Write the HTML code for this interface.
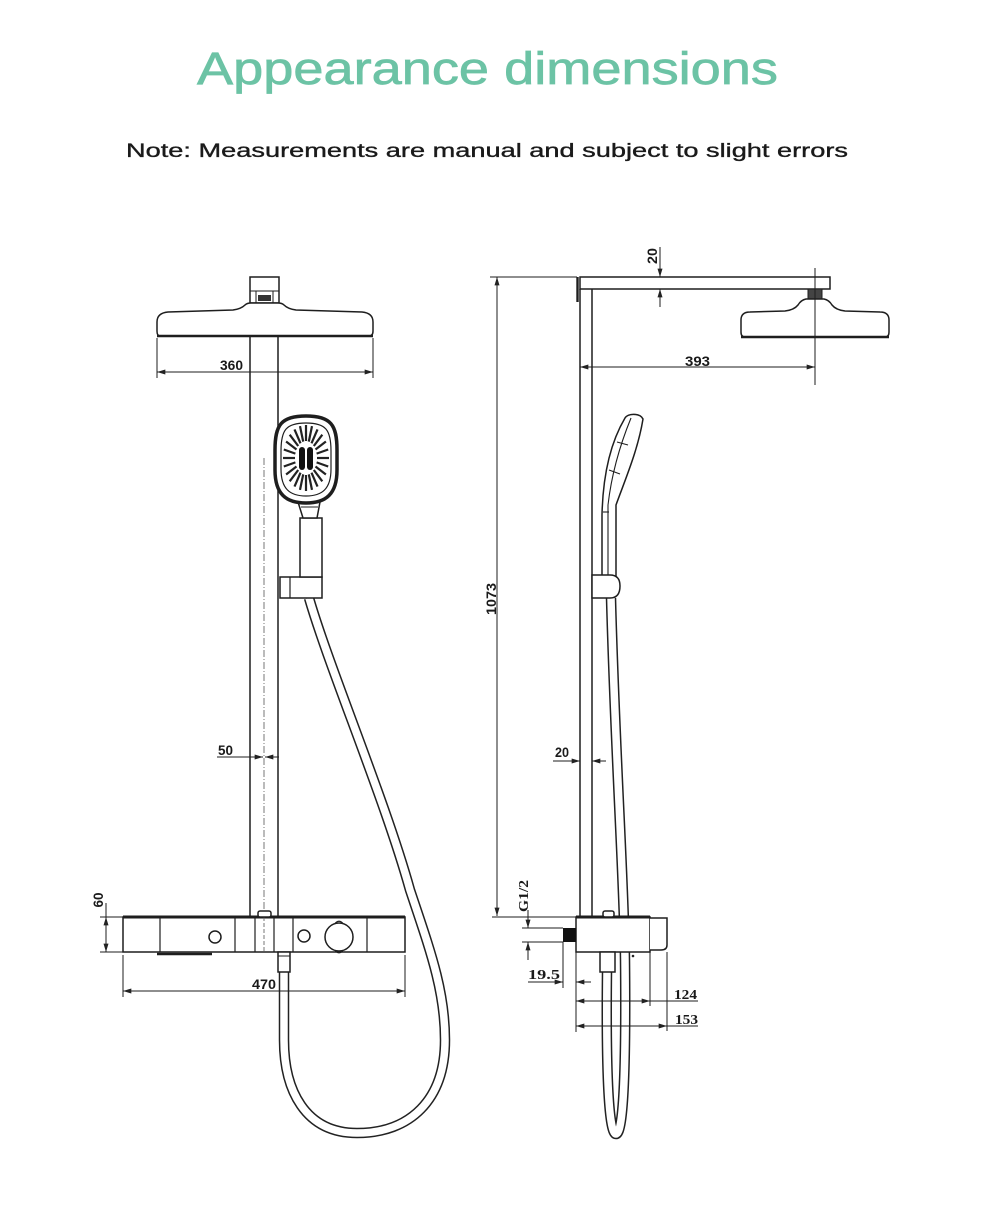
<!DOCTYPE html>
<html><head><meta charset="utf-8">
<style>
html,body{margin:0;padding:0;background:#fff;}
svg{display:block;}
</style></head><body>
<svg width="990" height="1224" viewBox="0 0 990 1224" xmlns="http://www.w3.org/2000/svg">
<defs>
<marker id="ar" viewBox="0 0 10 6" refX="10" refY="3" markerWidth="9" markerHeight="5" markerUnits="userSpaceOnUse" orient="auto-start-reverse">
<path d="M0,0 L10,3 L0,6 z" fill="#222"/>
</marker>
</defs>

<!-- Titles -->
<text x="197" y="84" font-family="Liberation Sans, sans-serif" font-size="45" fill="#6cc3a5" stroke="#6cc3a5" stroke-width="0.7" textLength="581" lengthAdjust="spacingAndGlyphs">Appearance dimensions</text>
<text x="126" y="157" font-family="Liberation Sans, sans-serif" font-size="19.5" fill="#1a1a1a" stroke="#1a1a1a" stroke-width="0.35" textLength="722" lengthAdjust="spacingAndGlyphs">Note: Measurements are manual and subject to slight errors</text>

<g stroke="#1e1e1e" fill="none" stroke-width="1.5">

<!-- ================= LEFT VIEW ================= -->
<line x1="250" y1="336" x2="250" y2="917"/>
<line x1="278" y1="336" x2="278" y2="917"/>
<line x1="264" y1="458" x2="264" y2="952" stroke="#777" stroke-width="1" stroke-dasharray="7 2 1 2"/>

<rect x="250" y="277" width="29" height="26" fill="#fff"/>
<line x1="250" y1="291" x2="279" y2="291" stroke-width="1"/>
<line x1="256" y1="291" x2="256" y2="303" stroke-width="1"/>
<line x1="273" y1="291" x2="273" y2="303" stroke-width="1"/>
<rect x="258" y="295" width="13" height="6" fill="#333" stroke="none"/>

<path d="M160 336 L369 336 Q373 336 373 331 L373 322 Q373 313 362 312 L296 310 Q288 309 284 305 Q282 303 278 303 L251 303 Q247 303 245 305 Q241 309 233 310 L168 312 Q157 313 157 322 L157 331 Q157 336 160 336 Z" fill="#fff"/>
<line x1="157" y1="336" x2="373" y2="336" stroke-width="2.6"/>

<line x1="157" y1="338" x2="157" y2="378" stroke-width="1"/>
<line x1="373" y1="338" x2="373" y2="378" stroke-width="1"/>
<line x1="157" y1="372" x2="373" y2="372" stroke-width="1" marker-start="url(#ar)" marker-end="url(#ar)"/>

<path d="M309 598 C330 670, 385 800, 410 890 C430 950, 445 990, 445 1040 C445 1100, 410 1133, 357 1133 C305 1133, 284 1090, 284 1040 L284 972" stroke="#222" stroke-width="10.5"/>
<path d="M309 598 C330 670, 385 800, 410 890 C430 950, 445 990, 445 1040 C445 1100, 410 1133, 357 1133 C305 1133, 284 1090, 284 1040 L284 972" stroke="#fff" stroke-width="7.5"/>

<rect x="280" y="577" width="42" height="21" fill="#fff"/>
<line x1="290" y1="577" x2="290" y2="598" stroke-width="1.2"/>
<path d="M300 518 L322 518 L322 577 L300 577 Z" fill="#fff"/>
<path d="M298 502 L320 502 L317 518 L303 518 Z" fill="#fff"/>
<line x1="301" y1="507" x2="318" y2="507" stroke-width="1"/>
<path d="M306 416 C331 416 337 425 337 450 L337 470 C337 494 326 503 306 503 C286 503 275 494 275 470 L275 450 C275 425 281 416 306 416 Z" fill="#fff" stroke-width="3.5"/>
<path d="M306 423 C326 423 331 430 331 451 L331 469 C331 489 322 496 306 496 C290 496 281 489 281 469 L281 451 C281 430 286 423 306 423 Z" stroke-width="1.2"/>
<g stroke="#222" stroke-width="2.2">
<line x1="317" y1="458" x2="329" y2="458"/>
<line x1="316.6" y1="462.4" x2="328.2" y2="466.5"/>
<line x1="315.5" y1="466.5" x2="325.9" y2="474.5"/>
<line x1="313.8" y1="470" x2="322.3" y2="481.3"/>
<line x1="311.5" y1="472.7" x2="317.5" y2="486.6"/>
<line x1="308.8" y1="474.4" x2="312" y2="489.9"/>
<line x1="306" y1="475" x2="306" y2="491"/>
<line x1="303.2" y1="474.4" x2="300" y2="489.9"/>
<line x1="300.5" y1="472.7" x2="294.5" y2="486.6"/>
<line x1="298.2" y1="470" x2="289.7" y2="481.3"/>
<line x1="296.5" y1="466.5" x2="286.1" y2="474.5"/>
<line x1="295.4" y1="462.4" x2="283.8" y2="466.5"/>
<line x1="295" y1="458" x2="283" y2="458"/>
<line x1="295.4" y1="453.6" x2="283.8" y2="449.5"/>
<line x1="296.5" y1="449.5" x2="286.1" y2="441.5"/>
<line x1="298.2" y1="446" x2="289.7" y2="434.7"/>
<line x1="300.5" y1="443.3" x2="294.5" y2="429.4"/>
<line x1="303.2" y1="441.6" x2="300" y2="426.1"/>
<line x1="306" y1="441" x2="306" y2="425"/>
<line x1="308.8" y1="441.6" x2="312" y2="426.1"/>
<line x1="311.5" y1="443.3" x2="317.5" y2="429.4"/>
<line x1="313.8" y1="446" x2="322.3" y2="434.7"/>
<line x1="315.5" y1="449.5" x2="325.9" y2="441.5"/>
<line x1="316.6" y1="453.6" x2="328.2" y2="449.5"/>
</g>
<rect x="299" y="447" width="6" height="23" rx="3" fill="#111" stroke="none"/>
<rect x="307" y="447" width="6" height="23" rx="3" fill="#111" stroke="none"/>

<line x1="217" y1="757" x2="263" y2="757" stroke-width="1" marker-end="url(#ar)"/>
<line x1="279" y1="757" x2="265" y2="757" stroke-width="1" marker-end="url(#ar)"/>

<rect x="123" y="917" width="282" height="35" fill="#fff"/>
<line x1="123" y1="917" x2="405" y2="917" stroke-width="3"/>
<line x1="160" y1="917" x2="160" y2="952" stroke-width="1.2"/>
<line x1="235" y1="917" x2="235" y2="952" stroke-width="1.2"/>
<line x1="255" y1="917" x2="255" y2="952" stroke-width="1.2"/>
<line x1="274" y1="917" x2="274" y2="952" stroke-width="1.2"/>
<line x1="293" y1="917" x2="293" y2="952" stroke-width="1.2"/>
<line x1="367" y1="917" x2="367" y2="952" stroke-width="1.2"/>
<line x1="264" y1="917" x2="264" y2="952" stroke="#777" stroke-width="1" stroke-dasharray="4 2"/>
<circle cx="215" cy="937" r="6"/>
<circle cx="304" cy="936" r="6"/>
<circle cx="339" cy="937" r="14"/>
<path d="M335 923.5 Q339 919 343 923.5" stroke-width="1.3"/>
<path d="M335 950.5 Q339 955 343 950.5" stroke-width="1.3"/>
<line x1="157" y1="954" x2="212" y2="954" stroke-width="2.4"/>
<rect x="258" y="911" width="13" height="6" rx="2" fill="#fff"/>
<rect x="278" y="952" width="12" height="20" fill="#fff"/>
<line x1="278" y1="956" x2="290" y2="956" stroke-width="1"/>

<line x1="100" y1="917" x2="123" y2="917" stroke-width="1"/>
<line x1="100" y1="952" x2="123" y2="952" stroke-width="1"/>
<line x1="106" y1="903" x2="106" y2="917" stroke-width="1"/>
<line x1="106" y1="934" x2="106" y2="917" stroke-width="1" marker-end="url(#ar)"/>
<line x1="106" y1="934" x2="106" y2="952" stroke-width="1" marker-end="url(#ar)"/>

<line x1="123" y1="955" x2="123" y2="997" stroke-width="1"/>
<line x1="405" y1="955" x2="405" y2="997" stroke-width="1"/>
<line x1="123" y1="991" x2="405" y2="991" stroke-width="1" marker-start="url(#ar)" marker-end="url(#ar)"/>

<!-- ================= RIGHT VIEW ================= -->
<line x1="580" y1="289" x2="580" y2="917"/>
<line x1="592" y1="289" x2="592" y2="917"/>
<rect x="580" y="277" width="250" height="12" fill="#fff"/>
<line x1="577.5" y1="277" x2="577.5" y2="302" stroke-width="2.4"/>

<rect x="808" y="289" width="14" height="10" fill="#444" stroke-width="1"/>
<path d="M745 337 L885 337 Q889 337 889 332 L889 320 Q889 312 880 312 L845 311 Q836 310 832 305 Q829 300 824 299 L806 299 Q801 300 798 305 Q794 310 785 311 L750 312 Q741 312 741 320 L741 332 Q741 337 745 337 Z" fill="#fff"/>
<line x1="741" y1="337" x2="889" y2="337" stroke-width="2.6"/>
<line x1="815" y1="268" x2="815" y2="385" stroke-width="1"/>

<line x1="580" y1="367" x2="815" y2="367" stroke-width="1" marker-start="url(#ar)" marker-end="url(#ar)"/>

<line x1="660" y1="247" x2="660" y2="277" stroke-width="1" marker-end="url(#ar)"/>
<line x1="660" y1="307" x2="660" y2="289" stroke-width="1" marker-end="url(#ar)"/>

<line x1="490" y1="277" x2="577" y2="277" stroke-width="1"/>
<line x1="492" y1="917" x2="576" y2="917" stroke-width="1"/>
<line x1="497" y1="277" x2="497" y2="916" stroke-width="1" marker-start="url(#ar)" marker-end="url(#ar)"/>

<path d="M611 598 C615 750, 624 880, 625 960 C626 1060, 624 1134, 616 1134 C608 1134, 606 1060, 607 972" stroke="#222" stroke-width="10.5"/>
<path d="M611 598 C615 750, 624 880, 625 960 C626 1060, 624 1134, 616 1134 C608 1134, 606 1060, 607 972" stroke="#fff" stroke-width="7.5"/>

<path d="M602 577 L602 515 C603 470, 612 440, 625 418 C628 413, 640 413, 643 419 C638 450, 625 480, 616 505 L616 577 Z" fill="#fff"/>
<path d="M631 418 C622 440, 612 470, 608 505 L608 577" stroke-width="1.1"/>
<line x1="617" y1="442" x2="628" y2="445" stroke-width="1.1"/>
<line x1="609" y1="470" x2="620" y2="474" stroke-width="1.1"/>
<line x1="603" y1="512" x2="609" y2="512" stroke-width="1.1"/>
<path d="M592 575 L610 575 Q620 575 620 586 Q620 598 610 598 L592 598 Z" fill="#fff"/>

<line x1="553" y1="761" x2="580" y2="761" stroke-width="1" marker-end="url(#ar)"/>
<line x1="606" y1="761" x2="592" y2="761" stroke-width="1" marker-end="url(#ar)"/>

<rect x="576" y="917" width="74" height="35" fill="#fff"/>
<line x1="576" y1="917" x2="650" y2="917" stroke-width="3"/>
<path d="M650 918 L667 918 L667 945 Q667 950 661 950 L650 950" fill="#fff"/>
<rect x="563" y="928" width="13" height="14" fill="#111" stroke="none"/>
<rect x="603" y="911" width="11" height="6" rx="2" fill="#fff"/>
<rect x="600" y="952" width="15" height="20" fill="#fff"/>
<circle cx="633" cy="956" r="1.3" fill="#222" stroke="none"/>

<line x1="522" y1="928" x2="563" y2="928" stroke-width="1"/>
<line x1="522" y1="942" x2="563" y2="942" stroke-width="1"/>
<line x1="528" y1="910" x2="528" y2="928" stroke-width="1" marker-end="url(#ar)"/>
<line x1="528" y1="960" x2="528" y2="942" stroke-width="1" marker-end="url(#ar)"/>

<line x1="563" y1="942" x2="563" y2="988" stroke-width="1"/>
<line x1="576" y1="952" x2="576" y2="1032" stroke-width="1"/>
<line x1="650" y1="952" x2="650" y2="1006" stroke-width="1"/>
<line x1="667" y1="952" x2="667" y2="1031" stroke-width="1"/>

<line x1="528" y1="982" x2="563" y2="982" stroke-width="1" marker-end="url(#ar)"/>
<line x1="591" y1="982" x2="576" y2="982" stroke-width="1" marker-end="url(#ar)"/>
<line x1="576" y1="1001" x2="650" y2="1001" stroke-width="1" marker-start="url(#ar)" marker-end="url(#ar)"/>
<line x1="650" y1="1001" x2="698" y2="1001" stroke-width="1"/>
<line x1="576" y1="1026" x2="667" y2="1026" stroke-width="1" marker-start="url(#ar)" marker-end="url(#ar)"/>
<line x1="667" y1="1026" x2="698" y2="1026" stroke-width="1"/>
</g>

<g font-family="Liberation Sans, sans-serif" font-weight="bold" fill="#1a1a1a" font-size="14">
<text x="220" y="370" textLength="23" lengthAdjust="spacingAndGlyphs">360</text>
<text x="252" y="989" textLength="24" lengthAdjust="spacingAndGlyphs">470</text>
<text x="218" y="755" textLength="15" lengthAdjust="spacingAndGlyphs">50</text>
<text x="685" y="366" textLength="25" lengthAdjust="spacingAndGlyphs">393</text>
<text x="555" y="757" textLength="14" lengthAdjust="spacingAndGlyphs">20</text>
<text transform="translate(103 900) rotate(-90)" text-anchor="middle" textLength="15" lengthAdjust="spacingAndGlyphs">60</text>
<text transform="translate(657 256) rotate(-90)" text-anchor="middle" textLength="16" lengthAdjust="spacingAndGlyphs">20</text>
<text transform="translate(496 599) rotate(-90)" text-anchor="middle" textLength="32" lengthAdjust="spacingAndGlyphs">1073</text>
</g>
<g font-family="Liberation Serif, serif" font-weight="bold" fill="#1a1a1a" font-size="14">
<text x="528" y="979" textLength="32" lengthAdjust="spacingAndGlyphs">19.5</text>
<text x="674" y="999" textLength="23" lengthAdjust="spacingAndGlyphs">124</text>
<text x="675" y="1024" textLength="23" lengthAdjust="spacingAndGlyphs">153</text>
<text transform="translate(528 896) rotate(-90)" text-anchor="middle" textLength="32" lengthAdjust="spacingAndGlyphs">G1/2</text>
</g>
</svg>
</body></html>
